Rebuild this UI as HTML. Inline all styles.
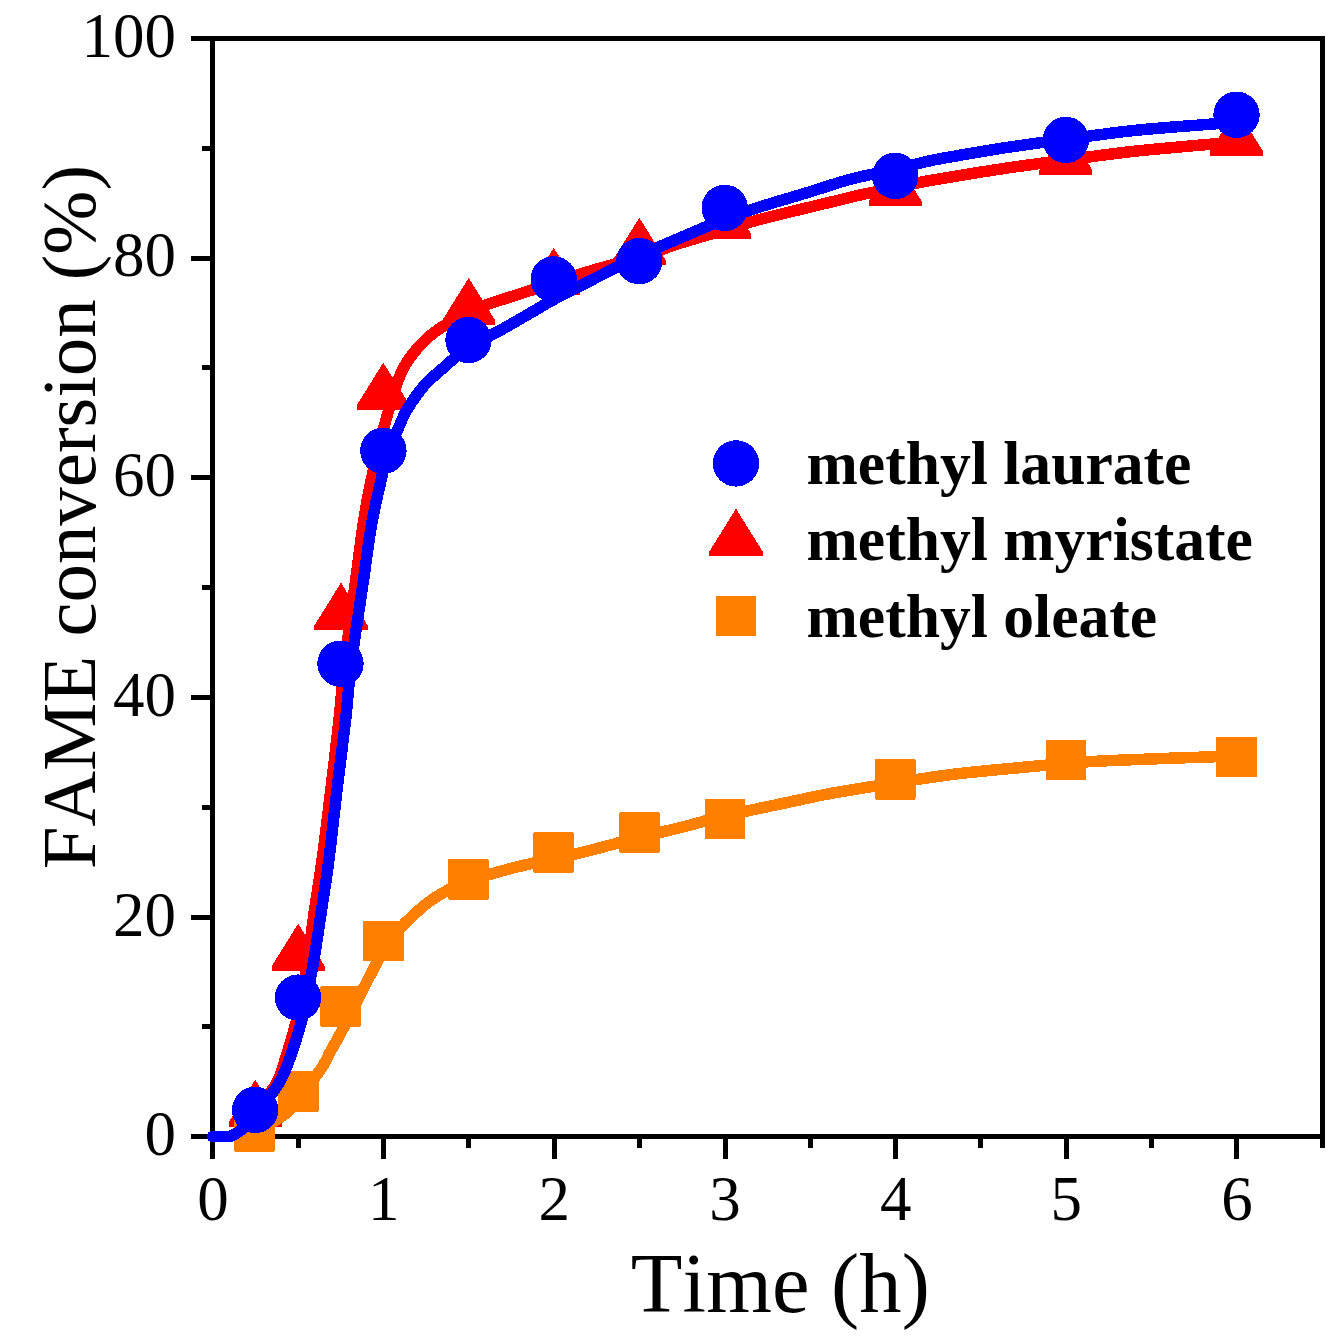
<!DOCTYPE html>
<html lang="en"><head><meta charset="utf-8"><title>FAME conversion vs time</title>
<style>
html,body{margin:0;padding:0;background:#fff;}
body{width:1339px;height:1342px;overflow:hidden;}
svg{display:block;}
text{font-family:"Liberation Serif","Times New Roman",Times,serif;fill:#000;font-kerning:none;}
.tick{font-size:63px;}
.leg{font-weight:bold;font-size:61.6px;}
.ln{fill:none;stroke-width:11.5;stroke-linecap:round;stroke-linejoin:round;}
</style></head><body>
<svg width="1339" height="1342" viewBox="0 0 1339 1342">
<rect width="1339" height="1342" fill="#fff"/>
<g fill="#000" shape-rendering="crispEdges">
<rect x="191" y="36" width="1134" height="5"/>
<rect x="191" y="1134" width="1134" height="5"/>
<rect x="210" y="36" width="5" height="1123"/>
<rect x="1320" y="36" width="5" height="1112"/>
<rect x="191" y="915" width="20" height="5"/>
<rect x="191" y="695" width="20" height="5"/>
<rect x="191" y="475" width="20" height="5"/>
<rect x="191" y="256" width="20" height="5"/>
<rect x="202" y="1024" width="9" height="5"/>
<rect x="202" y="805" width="9" height="5"/>
<rect x="202" y="585" width="9" height="5"/>
<rect x="202" y="365" width="9" height="5"/>
<rect x="202" y="146" width="9" height="5"/>
<rect x="381" y="1138" width="5" height="21"/>
<rect x="552" y="1138" width="5" height="21"/>
<rect x="723" y="1138" width="5" height="21"/>
<rect x="893" y="1138" width="5" height="21"/>
<rect x="1064" y="1138" width="5" height="21"/>
<rect x="1234" y="1138" width="5" height="21"/>
<rect x="296" y="1138" width="5" height="10"/>
<rect x="466" y="1138" width="5" height="10"/>
<rect x="637" y="1138" width="5" height="10"/>
<rect x="808" y="1138" width="5" height="10"/>
<rect x="978" y="1138" width="5" height="10"/>
<rect x="1149" y="1138" width="5" height="10"/>
</g>
<g class="tick" text-anchor="end">
<text x="176" y="1154.6">0</text>
<text x="176" y="935.8">20</text>
<text x="176" y="715.8">40</text>
<text x="176" y="495.7">60</text>
<text x="176" y="275.7">80</text>
<text x="176" y="57.2">100</text>
</g>
<g class="tick" text-anchor="middle">
<text x="213.0" y="1220">0</text>
<text x="383.7" y="1220">1</text>
<text x="554.3" y="1220">2</text>
<text x="725.0" y="1220">3</text>
<text x="895.7" y="1220">4</text>
<text x="1066.3" y="1220">5</text>
<text x="1237.0" y="1220">6</text>
</g>
<text x="630.8" y="1311.9" font-size="84.5" letter-spacing="0.15">Time (h)</text>
<text transform="translate(94.7 869.3) rotate(-90)" font-size="76.85">FAME conversion (%)</text>
<g shape-rendering="crispEdges">
<path class="ln" stroke="#ff0000" d="M212.5 1136.5 C214.1 1136.5 218.9 1136.6 222.0 1136.5 C225.1 1136.4 227.3 1137.5 231.0 1136.0 C234.7 1134.5 239.2 1132.3 244.0 1127.3 C248.8 1122.3 254.5 1113.5 260.0 1106.0 C265.5 1098.5 272.8 1090.1 277.0 1082.4 C281.2 1074.7 281.8 1070.2 285.0 1060.0 C288.2 1049.8 292.9 1035.1 296.4 1020.9 C299.8 1006.7 302.7 993.1 305.7 975.0 C308.7 956.9 311.5 931.5 314.2 912.3 C316.9 893.1 319.3 880.4 322.1 860.0 C324.9 839.6 328.0 813.3 330.8 790.0 C333.6 766.7 336.7 741.0 339.0 720.0 C341.3 699.0 341.8 687.0 344.6 663.7 C347.4 640.4 352.6 603.4 355.7 580.0 C358.8 556.6 360.8 540.0 363.3 523.6 C365.8 507.2 367.4 497.6 370.8 481.8 C374.2 466.0 379.2 445.0 383.6 428.6 C388.0 412.2 393.3 394.2 396.9 383.6 C400.5 373.0 402.0 370.6 405.3 364.8 C408.6 359.1 412.6 354.0 416.8 349.1 C421.0 344.2 425.7 339.5 430.4 335.5 C435.1 331.5 438.6 329.2 445.0 325.1 C451.4 321.0 457.4 315.9 468.8 311.0 C480.2 306.1 499.4 300.6 513.6 295.9 C527.8 291.2 541.2 287.1 553.9 283.0 C566.6 278.9 575.8 275.4 590.0 271.1 C604.2 266.8 624.3 261.7 639.4 257.0 C654.5 252.3 666.6 247.5 680.8 243.0 C695.0 238.5 711.6 233.9 724.8 230.0 C738.0 226.1 745.8 223.2 760.0 219.4 C774.2 215.6 796.7 210.3 810.0 207.1 C823.3 203.8 831.7 201.9 840.0 199.9 C848.3 197.9 850.8 197.0 860.0 195.0 C869.2 193.0 885.2 190.1 895.2 188.0 C905.2 185.9 912.5 183.9 920.0 182.4 C927.5 180.9 926.7 181.1 940.0 178.9 C953.3 176.7 979.0 172.2 1000.0 169.1 C1021.0 165.9 1043.3 163.0 1066.0 160.0 C1088.7 157.0 1112.0 153.7 1135.9 151.1 C1159.9 148.5 1192.9 145.8 1209.7 144.3 C1226.5 142.8 1232.0 142.4 1236.5 142.0"/>
<g fill="#ff0000">
<polygon points="255.2,1079.7 281.8,1122.4 281.8,1126.9 228.6,1126.9 228.6,1122.4"/>
<polygon points="298.2,923.6 324.8,966.3 324.8,970.8 271.6,970.8 271.6,966.3"/>
<polygon points="341.0,582.7 367.6,625.4 367.6,629.9 314.4,629.9 314.4,625.4"/>
<polygon points="383.3,362.6 409.9,405.3 409.9,409.8 356.7,409.8 356.7,405.3"/>
<polygon points="468.7,277.9 495.3,320.6 495.3,325.1 442.1,325.1 442.1,320.6"/>
<polygon points="553.8,247.8 580.4,290.5 580.4,295.0 527.2,295.0 527.2,290.5"/>
<polygon points="639.3,217.7 665.9,260.4 665.9,264.9 612.7,264.9 612.7,260.4"/>
<polygon points="724.7,191.5 751.3,234.2 751.3,238.7 698.1,238.7 698.1,234.2"/>
<polygon points="895.1,158.6 921.7,201.3 921.7,205.8 868.5,205.8 868.5,201.3"/>
<polygon points="1065.8,127.4 1092.4,170.1 1092.4,174.6 1039.2,174.6 1039.2,170.1"/>
<polygon points="1236.5,108.7 1263.1,151.4 1263.1,155.9 1209.9,155.9 1209.9,151.4"/>
</g></g>
<g shape-rendering="crispEdges">
<path class="ln" stroke="#ff8000" d="M255.0 1134.0 C257.8 1132.1 265.6 1126.9 271.7 1122.6 C277.8 1118.3 283.2 1117.1 291.5 1108.0 C299.8 1098.9 315.1 1077.3 321.5 1068.0 C327.9 1058.7 326.6 1058.4 330.0 1052.3 C333.4 1046.2 337.0 1040.1 341.6 1031.4 C346.2 1022.7 354.1 1007.0 357.6 1000.0 C361.2 993.0 360.8 993.8 362.9 989.6 C365.0 985.4 367.6 980.2 370.5 974.7 C373.4 969.2 376.4 962.3 380.0 956.3 C383.6 950.3 388.0 943.9 392.0 938.5 C396.0 933.1 401.1 927.3 404.0 924.1 C406.9 920.9 405.7 922.4 409.3 919.1 C412.9 915.8 420.2 908.6 425.7 904.3 C431.2 900.0 435.1 897.1 442.2 893.2 C449.3 889.3 457.4 885.0 468.4 881.0 C479.3 877.0 498.6 871.9 507.9 869.3 C517.2 866.7 516.7 867.0 524.3 865.2 C531.9 863.4 544.2 860.8 553.5 858.7 C562.8 856.7 565.7 856.4 580.0 852.9 C594.3 849.4 622.4 841.8 639.5 837.5 C656.6 833.2 668.4 830.6 682.6 827.0 C696.9 823.4 708.2 819.9 725.0 815.9 C741.8 811.9 766.1 807.0 783.6 803.3 C801.1 799.6 811.4 797.0 830.0 793.6 C848.6 790.2 874.3 786.2 895.3 782.9 C916.3 779.6 935.1 776.5 955.9 774.0 C976.7 771.5 998.3 769.6 1020.0 767.6 C1041.7 765.6 1063.3 763.4 1086.0 761.9 C1108.7 760.4 1134.2 759.7 1155.9 758.8 C1177.6 757.9 1202.7 757.1 1216.1 756.7 C1229.5 756.3 1233.1 756.4 1236.5 756.3"/>
<g fill="#ff8000">
<rect x="234.3" y="1111.2" width="40.6" height="40.6" rx="1.5"/>
<rect x="278.1" y="1071.3" width="40.6" height="40.6" rx="1.5"/>
<rect x="320.2" y="986.4" width="40.6" height="40.6" rx="1.5"/>
<rect x="363.2" y="920.7" width="40.6" height="40.6" rx="1.5"/>
<rect x="448.1" y="859.1" width="40.6" height="40.6" rx="1.5"/>
<rect x="533.2" y="832.1" width="40.6" height="40.6" rx="1.5"/>
<rect x="619.1" y="812.2" width="40.6" height="40.6" rx="1.5"/>
<rect x="704.7" y="798.6" width="40.6" height="40.6" rx="1.5"/>
<rect x="875.0" y="759.1" width="40.6" height="40.6" rx="1.5"/>
<rect x="1045.6" y="739.6" width="40.6" height="40.6" rx="1.5"/>
<rect x="1216.2" y="736.8" width="40.6" height="40.6" rx="1.5"/>
</g></g>
<g shape-rendering="crispEdges">
<path class="ln" stroke="#0000ff" d="M212.5 1136.5 C214.1 1136.5 218.9 1136.6 222.0 1136.5 C225.1 1136.4 227.3 1137.5 231.0 1136.0 C234.7 1134.5 238.8 1132.3 244.0 1127.3 C249.2 1122.3 256.2 1113.3 262.0 1106.0 C267.8 1098.7 274.2 1091.3 278.8 1083.6 C283.4 1075.9 285.5 1070.5 289.3 1060.0 C293.1 1049.5 298.7 1031.4 301.6 1020.9 C304.5 1010.4 304.6 1006.4 306.5 997.0 C308.4 987.6 310.7 978.7 313.1 964.6 C315.6 950.5 318.6 929.7 321.2 912.3 C323.8 894.9 326.3 880.4 328.9 860.0 C331.5 839.6 334.2 813.3 337.0 790.0 C339.8 766.7 343.2 741.0 345.6 720.0 C348.0 699.0 348.3 687.0 351.3 663.7 C354.3 640.4 360.1 603.4 363.5 580.0 C366.9 556.6 368.8 540.0 371.7 523.6 C374.6 507.2 378.0 493.7 380.7 481.8 C383.4 469.9 384.9 461.4 388.0 452.0 C391.1 442.6 396.4 432.5 399.5 425.5 C402.6 418.5 402.8 416.4 406.9 409.8 C411.0 403.2 417.8 392.9 424.1 385.7 C430.5 378.5 437.6 372.8 445.0 366.4 C452.4 359.9 459.3 353.0 468.5 347.0 C477.7 341.0 492.5 334.6 500.0 330.5 C507.5 326.4 507.4 326.3 513.6 322.7 C519.9 319.1 530.8 312.8 537.5 308.9 C544.2 305.0 546.5 303.4 553.6 299.6 C560.7 295.8 565.7 293.3 580.0 286.0 C594.3 278.7 622.5 264.1 639.3 256.0 C656.1 247.9 666.5 243.7 680.8 237.6 C695.0 231.5 711.6 224.3 724.8 219.2 C738.0 214.1 745.8 211.5 760.0 206.9 C774.2 202.3 796.7 195.9 810.0 191.8 C823.3 187.7 831.7 184.7 840.0 182.2 C848.3 179.7 850.8 179.1 860.0 176.9 C869.2 174.8 885.2 171.6 895.2 169.3 C905.2 167.0 912.5 164.9 920.0 163.2 C927.5 161.4 926.7 161.2 940.0 158.8 C953.3 156.4 979.0 151.8 1000.0 148.5 C1021.0 145.2 1043.3 142.3 1066.0 139.3 C1088.7 136.3 1111.6 132.8 1135.9 130.3 C1160.2 127.8 1194.9 125.5 1211.7 124.1 C1228.5 122.7 1232.4 122.3 1236.5 122.0"/>
<g fill="#0000ff">
<circle cx="255.2" cy="1109.9" r="23.2"/>
<circle cx="298.1" cy="997.6" r="23.2"/>
<circle cx="340.5" cy="663.7" r="23.2"/>
<circle cx="383.4" cy="450.8" r="23.2"/>
<circle cx="468.5" cy="340.1" r="23.2"/>
<circle cx="553.7" cy="279.4" r="23.2"/>
<circle cx="639.3" cy="261.1" r="23.2"/>
<circle cx="724.7" cy="207.9" r="23.2"/>
<circle cx="895.2" cy="175.9" r="23.2"/>
<circle cx="1065.9" cy="140.0" r="23.2"/>
<circle cx="1236.5" cy="114.8" r="23.2"/>
</g></g>
<g shape-rendering="crispEdges">
<g fill="#0000ff"><circle cx="736.0" cy="463.4" r="23.2"/></g>
<g fill="#ff0000"><polygon points="736.0,508.7 762.6,551.4 762.6,555.9 709.4,555.9 709.4,551.4"/></g>
<g fill="#ff8000"><rect x="715.7" y="595.7" width="40.6" height="40.6" rx="1.5"/></g>
</g>
<g class="leg">
<text x="806.5" y="484">methyl laurate</text>
<text x="806.5" y="560">methyl myristate</text>
<text x="806.5" y="637">methyl oleate</text>
</g>
</svg></body></html>
